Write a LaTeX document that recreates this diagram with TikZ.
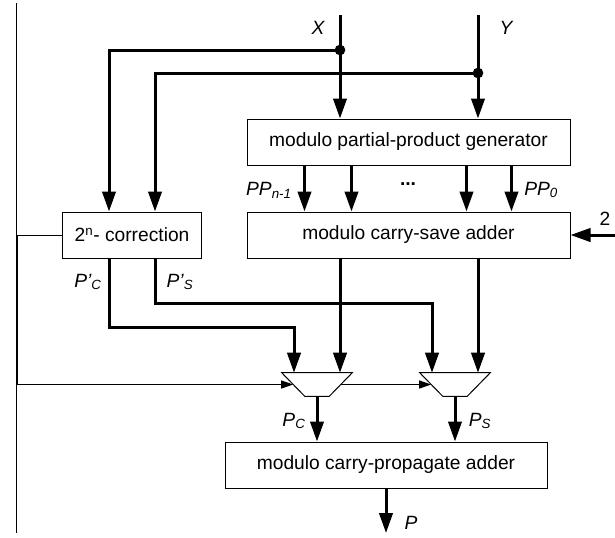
\documentclass[tikz,border=0pt]{standalone}
\usepackage{fontspec}
\setmainfont{Liberation Sans}
\usetikzlibrary{arrows.meta}

\begin{document}
\begin{tikzpicture}[x=0.75pt,y=0.75pt,yscale=-1,xscale=1,
  box/.style={draw,line width=0.75pt,minimum height=34.5pt,inner sep=0pt,font=\fontsize{14.4}{17}\selectfont},
  mux/.style={minimum height=17.25pt,minimum width=52.5pt,inner sep=0pt},
  bus/.style={line width=2.25pt,-{Triangle[length=15pt,width=10pt]}},
  wire/.style={line width=0.75pt,-{Triangle[length=9pt,width=6pt]}},
  lbl/.style={font=\fontsize{14.4}{17}\selectfont\itshape,inner sep=0.75pt},
  jdot/.style={circle,fill,inner sep=0pt,minimum size=8pt}]
\useasboundingbox (0,0) rectangle (615,537);

%Straight Lines: left margin
\draw [line width=0.75pt] (16,3) -- (16,533);

%Shapes: blocks
\node [box,minimum width=104.25pt] (corr) at (132,235) {2\textsuperscript{n}- correction};
\node [box,minimum width=242.25pt] (ppg) at (408.5,142) {modulo partial-product generator};
\node [box,minimum width=242.25pt] (csa) at (408.5,235) {modulo carry-save adder};
\node [box,minimum width=241.5pt] (cpa) at (386,465) {modulo carry-propagate adder};
\node [mux] (mux1) at (317,384.5) {};
\node [mux] (mux2) at (455,384.5) {};
\foreach \m in {mux1,mux2}
  \draw [line width=0.75pt] (\m.north west) -- (\m.north east) -- ([xshift=-17.25pt]\m.south east) -- ([xshift=17.25pt]\m.south west) -- cycle;

%Coordinates: free ends
\coordinate (xin) at (340,15);
\coordinate (yin) at (478,15);
\coordinate (twoin) at (615,235);
\coordinate (pout) at (386,533);

%Straight Lines: operands
\draw [bus] (xin) -- (xin |- ppg.north);
\draw [bus] (yin) -- (yin |- ppg.north);
\node [jdot] (xdot) at (340,50) {};
\node [jdot] (ydot) at (478,73) {};
\draw [bus] (xdot.center) -| ([xshift=-17.25pt]corr.north);
\draw [bus] (ydot.center) -| ([xshift=17.25pt]corr.north);

%Straight Lines: partial products
\foreach \d in {43.5,78.75,165,198.75}
  \draw [bus] ([xshift=\d pt]ppg.south west) -- ([xshift=\d pt]csa.north west);
\draw [bus] (twoin) -- (csa.east);

%Straight Lines: into the muxes
\draw [bus] (xin |- csa.south) -- (xin |- mux1.north);
\draw [bus] (yin |- csa.south) -- (yin |- mux2.north);
\draw [bus] ([xshift=-17.25pt]corr.south) -- ++(0,69) -| ([xshift=-17.25pt]mux1.north);
\draw [bus] ([xshift=17.25pt]corr.south) -- ++(0,45) -| ([xshift=-17.25pt]mux2.north);
\draw [wire] (corr.west) -- ++(-44.5,0) |- ([xshift=8.6pt]mux1.west);
\draw [wire] ([xshift=-8.6pt]mux1.east) -- ([xshift=8.6pt]mux2.west);

%Straight Lines: outputs
\draw [bus] (mux1.south) -- (mux1.south |- cpa.north);
\draw [bus] (mux2.south) -- (mux2.south |- cpa.north);
\draw [bus] (cpa.south) -- (pout);

% Text Node
\node [lbl] (xlbl) at (318,28) {X};
\node [lbl] (ylbl) at (506,28) {Y};
\node [lbl,anchor=east] (ppn) at (293,190) {PP\textsubscript{n-1}};
\node [lbl,anchor=west] (pp0) at (523,190) {PP\textsubscript{0}};
\node [font=\fontsize{14.4}{17}\selectfont\bfseries] (dots) at (408,184) {...};
\node [lbl,font=\fontsize{14.4}{17}\selectfont] (two) at (605,219) {2};
\node [lbl] (pcp) at (88,282) {P'\textsubscript{C}};
\node [lbl] (psp) at (180,282) {P'\textsubscript{S}};
\node [lbl] (pc) at (294,421) {P\textsubscript{C}};
\node [lbl] (ps) at (480,421) {P\textsubscript{S}};
\node [lbl] (plbl) at (411,523) {P};
\end{tikzpicture}
\end{document}
